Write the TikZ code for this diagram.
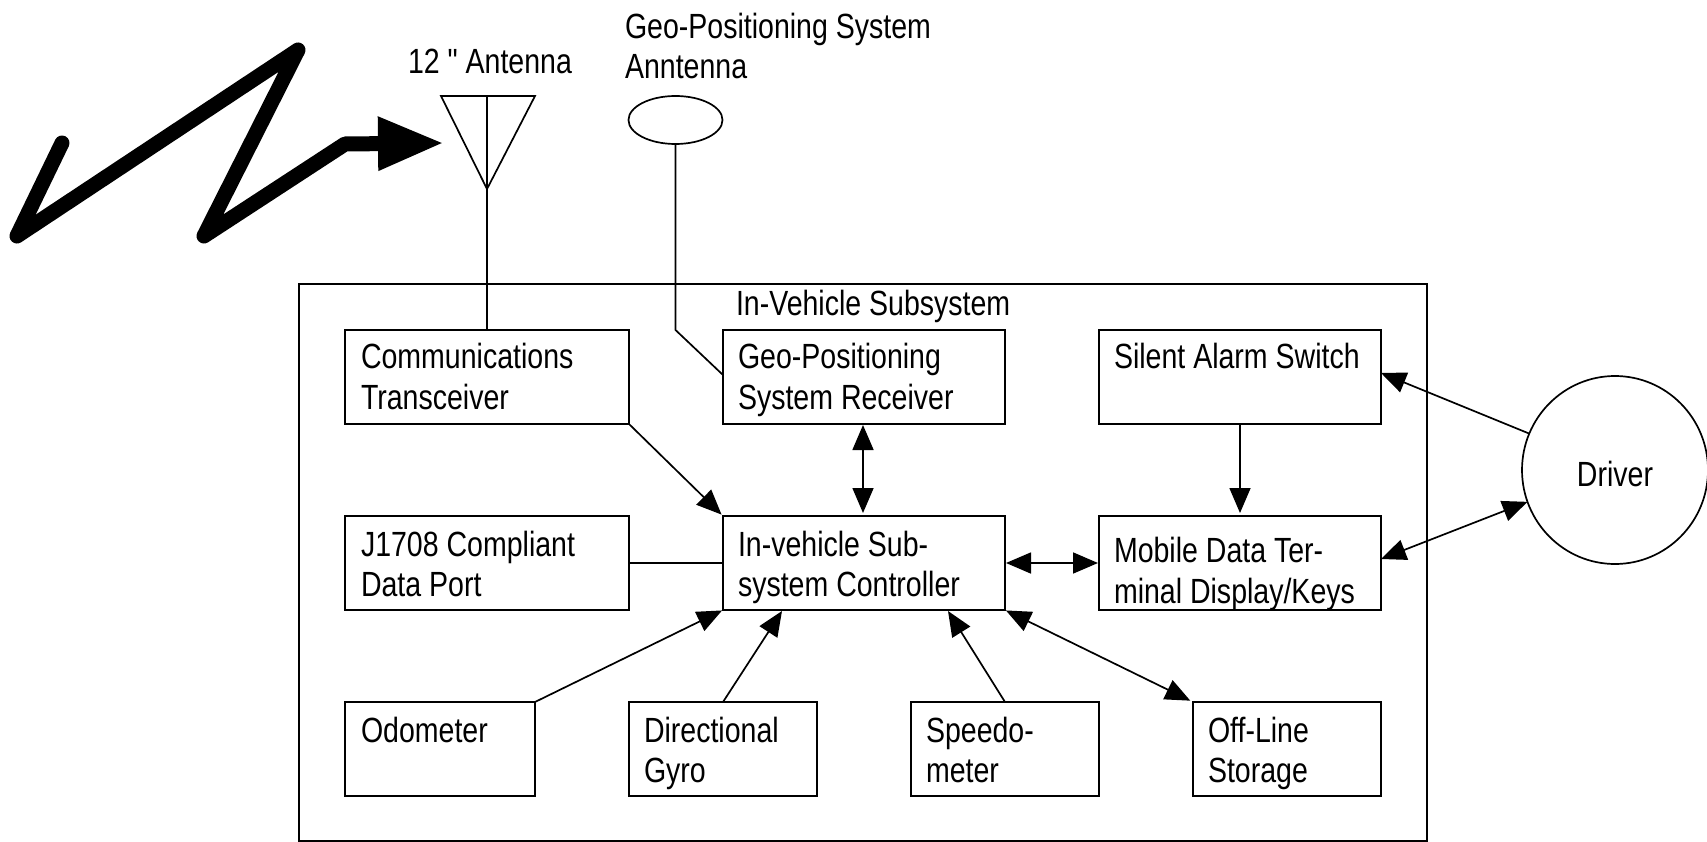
\documentclass[tikz,border=0pt]{standalone}
\usepackage{fontspec}
\setmainfont[FakeStretch=0.815]{Liberation Sans}
\newfontfamily\plainq[FakeStretch=0.815]{Liberation Sans}
\usetikzlibrary{arrows.meta,shapes.geometric}
\newcommand\boxlabel[6][40]{\parbox[c][#3pt][t]{#2pt}{\fontsize{35pt}{#1pt}\selectfont\raggedright\leftskip=#4pt\rule{0pt}{#5pt}#6\par}}
\tikzset{
  every node/.style={inner sep=0pt,outer sep=0pt,font=\fontsize{35pt}{41pt}\selectfont},
  boxnode/.style={draw,line width=1.7pt,anchor=north west},
  lbl/.style={anchor=base west,align=left},
  wire/.style={line width=1.7pt},
  arr/.style={wire,-{Triangle[length=25pt,width=21pt]}},
  biarr/.style={wire,{Triangle[length=25pt,width=21pt]}-{Triangle[length=25pt,width=21pt]}},
  bolt/.style={line width=15pt,line cap=round,line join=round,-{Triangle[length=66pt,width=50pt]}}
}
\begin{document}
\begin{tikzpicture}[x=1pt,y=-1pt]
\path[use as bounding box,fill=white] (0,0) rectangle (1707,842);
% outer box and labels
\node[boxnode,minimum width=1128pt,minimum height=557pt] (outer) at (299,284) {};
\node[lbl] (title) at (736,315) {In-Vehicle Subsystem};
\node[lbl] (antlabel) at (408,74) {12 {\plainq"} Antenna};
\node[lbl] (gpslabel) at (625,39) {Geo-Positioning System};
\node[lbl] (gpslabelb) at (625,79) {Anntenna};
% boxes
\node[boxnode] (comm) at (345,330) {\boxlabel[41]{284}{94}{16}{38}{Communications\\Transceiver}};
\node[boxnode] (gpsrx) at (723,330) {\boxlabel[41]{282}{94}{15}{38}{Geo-Positioning\\System Receiver}};
\node[boxnode] (silent) at (1099,330) {\boxlabel{282}{94}{15}{38}{Silent Alarm Switch}};
\node[boxnode] (j1708) at (345,516) {\boxlabel{284}{94}{16}{40}{J1708 Compliant\\Data Port}};
\node[boxnode] (ctrl) at (723,516) {\boxlabel{282}{94}{15}{40}{In-vehicle Sub-\\system Controller}};
\node[boxnode] (mdt) at (1099,516) {\boxlabel[41]{282}{94}{15}{46}{Mobile Data Ter-\\minal Display/Keys}};
\node[boxnode] (odo) at (345,702) {\boxlabel{190}{94}{16}{40}{Odometer}};
\node[boxnode] (gyro) at (629,702) {\boxlabel{188}{94}{15}{40}{Directional\\Gyro}};
\node[boxnode] (speed) at (911,702) {\boxlabel{188}{94}{15}{40}{Speedo-\\meter}};
\node[boxnode] (store) at (1193,702) {\boxlabel{188}{94}{15}{40}{Off-Line\\Storage}};
\node[draw,ellipse,line width=1.7pt,minimum width=186pt,minimum height=188pt,text height=34pt] (driver) at (1615,470) {Driver};
\node[draw,ellipse,line width=1.7pt,minimum width=94pt,minimum height=48pt] (gpsant) at (675.5,120) {};
% antenna
\coordinate (antl) at (441,96);
\coordinate (antr) at (535,96);
\coordinate (antm) at (487,96);
\coordinate (antapex) at (487,189);
\draw[wire,line join=miter] (antl) -- (antr) -- (antapex) -- cycle;
\draw[wire] (antm) -- (antapex) -- (comm.north);
% GPS antenna feed
\coordinate (gpsbend) at (675.5,330);
\draw[wire] (gpsant.south) -- (gpsbend) -- ([yshift=2pt]gpsrx.west);
% lightning bolt
\coordinate (b1) at (62,143);
\coordinate (b2) at (17,236);
\coordinate (b3) at (298,50);
\coordinate (b4) at (204,236);
\coordinate (b5) at (345,144);
\coordinate (b6) at (444,143);
\draw[bolt] (b1) -- (b2) -- (b3) -- (b4) -- (b5) -- (b6);
% connectors
\coordinate (ctop) at ([xshift=-1pt]ctrl.north);
\coordinate (gbot) at ([xshift=-1pt]gpsrx.south);
\draw[arr,shorten >=2pt] (comm.south east) -- (ctrl.north west);
\draw[biarr,shorten <=1pt,shorten >=3pt] (gbot) -- (ctop);
\draw[wire] (j1708.east) -- (ctrl.west);
\draw[biarr,shorten <=1pt,shorten >=1pt] (ctrl.east) -- (mdt.west);
\draw[arr,shorten >=3pt] (silent.south) -- (mdt.north);
\draw[arr] (driver.157) -- ([yshift=4pt]silent.east);
\draw[biarr] ([yshift=4pt]mdt.east) -- (driver.200);
\draw[arr,shorten >=1pt] (odo.north east) -- (ctrl.south west);
\draw[arr] (gyro.north) -- ([xshift=59pt,yshift=-1pt]ctrl.south west);
\draw[arr] (speed.north) -- ([xshift=-57pt,yshift=-1pt]ctrl.south east);
\draw[biarr,shorten <=1pt,shorten >=3pt] (ctrl.south east) -- (store.north west);
\end{tikzpicture}
\end{document}
